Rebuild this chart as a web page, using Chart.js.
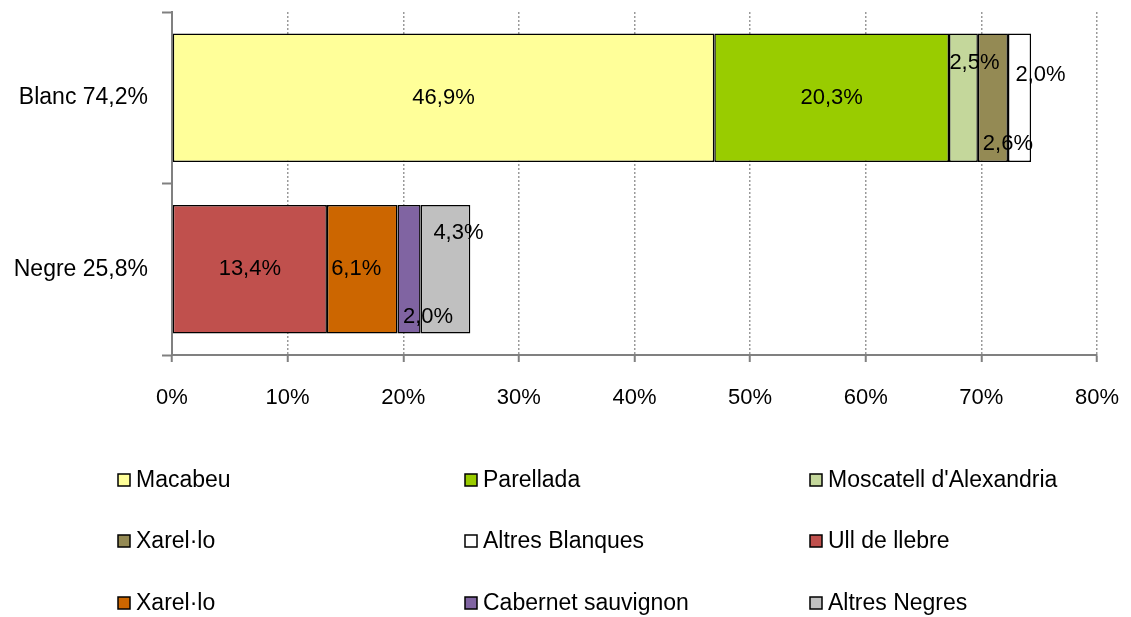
<!DOCTYPE html>
<html>
<head>
<meta charset="utf-8">
<script src="https://cdn.jsdelivr.net/npm/chart.js@4"></script>
<style>
  html, body { margin: 0; padding: 0; background: #fff; }
  #wrap { width: 1131px; height: 617px; }
</style>
</head>
<body>
<div id="wrap"><canvas id="varietyChart" width="1131" height="617"></canvas></div>
<script>
// Categories (bar rows)
const categories = ['Blanc 74,2%', 'Negre 25,8%'];

// Grape varieties (one stacked segment each)
const seriesNames = [
    'Macabeu', 'Parellada', "Moscatell d'Alexandria",
    'Xarel·lo', 'Altres Blanques', 'Ull de llebre',
    'Xarel·lo', 'Cabernet sauvignon', 'Altres Negres'
];

// Share (%) in each row
const blancValues = [46.9, 20.3, 2.5, 2.6, 2.0, null, null, null, null];
const negreValues = [null, null, null, null, null, 13.4, 6.1, 2.0, 4.3];

// x axis ticks
const xTicks = [0, 10, 20, 30, 40, 50, 60, 70, 80];

const seriesColors = [
    '#FFFF99', '#99CC00', '#C4D79B',
    '#948A54', '#FFFFFF', '#C0504D',
    '#CC6600', '#8064A2', '#C0C0C0'
];

const FONT = '"Liberation Sans", Arial, sans-serif';
const FSIZE = 22;

// label nudges for the thin segments (dx, dy in px from segment centre)
const labelNudge = {
    2: [11, -35],
    3: [15, 46],
    4: [21, -23],
    6: [-6, 0],
    7: [19, 48],
    8: [13, -36]
};

const segmentLabels = {
    id: 'segmentLabels',
    afterDatasetsDraw(chart) {
        const ctx = chart.ctx;
        ctx.save();
        ctx.font = FSIZE + 'px ' + FONT;
        ctx.fillStyle = '#000';
        ctx.textAlign = 'center';
        ctx.textBaseline = 'middle';
        chart.data.datasets.forEach((ds, i) => {
            const meta = chart.getDatasetMeta(i);
            meta.data.forEach((el, j) => {
                const v = ds.data[j];
                if (v === null || v === undefined) return;
                const nudge = labelNudge[i] || [0, 0];
                const cx = (el.x + el.base) / 2 + nudge[0];
                const cy = el.y + nudge[1];
                ctx.fillText(v.toFixed(1).replace('.', ',') + '%', cx, cy);
            });
        });
        ctx.restore();
    }
};

// legend drawn as a 3-column grid below the axis
const gridLegend = {
    id: 'gridLegend',
    afterDraw(chart) {
        const ctx = chart.ctx;
        const colX = [118, 465, 810];
        const rowY = [480, 541, 603];
        ctx.save();
        ctx.font = '23px ' + FONT;
        ctx.textAlign = 'left';
        ctx.textBaseline = 'middle';
        chart.data.datasets.forEach((ds, i) => {
            const x = colX[i % 3];
            const y = rowY[Math.floor(i / 3)];
            ctx.fillStyle = ds.backgroundColor;
            ctx.fillRect(x, y - 6, 12, 12);
            ctx.lineWidth = 1.5;
            ctx.strokeStyle = '#000';
            ctx.strokeRect(x, y - 6, 12, 12);
            ctx.fillStyle = '#000';
            ctx.fillText(ds.label, x + 18, y + 1);
        });
        ctx.restore();
    }
};

const datasets = seriesNames.map((name, i) => ({
    label: name,
    data: [blancValues[i], negreValues[i]],
    backgroundColor: seriesColors[i],
    borderColor: '#000',
    borderWidth: 1.5,
    borderSkipped: false,
    barPercentage: 0.75,
    categoryPercentage: 1.0
}));

const ctx = document.getElementById('varietyChart').getContext('2d');
const varietyChart = new Chart(ctx, {
    type: 'bar',
    data: { labels: categories, datasets: datasets },
    options: {
        indexAxis: 'y',
        responsive: false,
        animation: false,
        layout: { padding: { top: 0, right: 34, bottom: 0, left: 0 } },
        scales: {
            x: {
                stacked: true,
                min: 0,
                max: 80,
                afterBuildTicks: (scale) => { scale.ticks = xTicks.map(v => ({ value: v })); },
                afterFit: (scale) => {
                    scale.height = 262;
                    scale.paddingLeft = 0;
                    scale.paddingRight = 0;
                },
                ticks: {
                    color: '#000',
                    font: { family: FONT, size: FSIZE },
                    padding: 23,
                    maxRotation: 0,
                    callback: (v) => v + '%'
                },
                grid: {
                    color: '#9A9A9A',
                    lineWidth: 1.5,
                    tickColor: '#808080',
                    tickBorderDash: [],
                    tickLength: 7,
                    tickWidth: 2
                },
                border: { color: '#808080', width: 2, dash: [2, 2] }
            },
            y: {
                stacked: true,
                afterFit: (scale) => {
                    scale.width = 172;
                    scale.paddingTop = 12;
                    scale.paddingBottom = 0;
                },
                ticks: {
                    color: '#000',
                    font: { family: FONT, size: 23 },
                    padding: 14
                },
                grid: {
                    drawOnChartArea: false,
                    offset: true,
                    tickColor: '#808080',
                    tickLength: 10,
                    tickWidth: 2
                },
                border: { color: '#808080', width: 2 }
            }
        },
        plugins: {
            legend: { display: false },
            tooltip: { enabled: false }
        }
    },
    plugins: [segmentLabels, gridLegend]
});
</script>
</body>
</html>
